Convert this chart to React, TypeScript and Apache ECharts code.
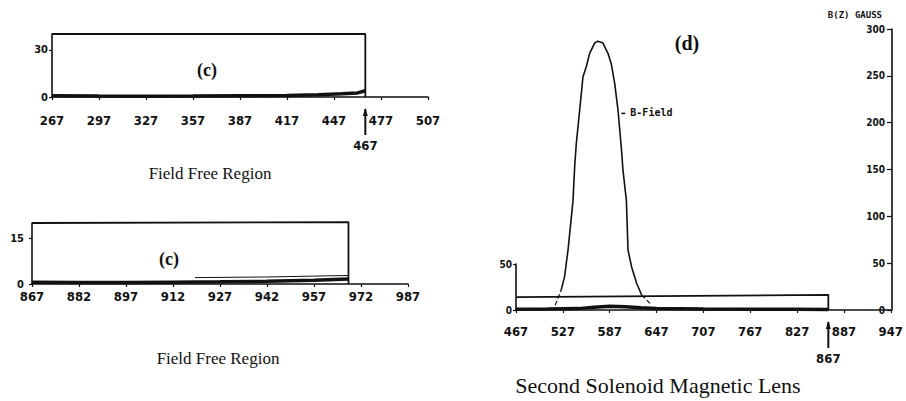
import React, { useEffect, useRef } from "react";
import * as echarts from "echarts";

// Panel (c) top: Field Free Region 267..507
const xTicks1 = [267, 297, 327, 357, 387, 417, 447, 477, 507];
const yTicks1 = [0, 30];
const box1 = [[267, 40], [467, 40], [467, 0]];
const trace1 = [[267, 0.8], [297, 0.6], [327, 0.5], [357, 0.6], [387, 0.8], [417, 1.0], [437, 1.4], [452, 2.0], [462, 2.6], [467, 4]];

// Panel (c) middle: Field Free Region 867..987
const xTicks2 = [867, 882, 897, 912, 927, 942, 957, 972, 987];
const yTicks2 = [0, 15];
const box2 = [[867, 20], [968, 20.3], [968, 0]];
const trace2 = [[867, 0.6], [882, 0.5], [897, 0.5], [912, 0.6], [927, 0.7], [942, 0.9], [957, 1.2], [968, 1.6]];
const trace2b = [[919, 2.1], [942, 2.3], [968, 2.8]];

// Panel (d): Second Solenoid Magnetic Lens 467..947
const xTicks3 = [467, 527, 587, 647, 707, 767, 827, 887, 947];
const yTicks3 = [0, 50];
const box3 = [[467, 14], [867, 16.5], [867, 0]];
const trace3 = [[467, 0.8], [507, 1], [547, 1.5], [567, 3], [587, 4], [607, 3.6], [627, 2.5], [647, 1.5], [707, 1], [767, 0.8], [827, 0.8], [867, 0.5]];
const bField = [
  [524.6, 21], [529, 35.6], [533.4, 64], [539.8, 117], [541.9, 153], [544, 178], [548.3, 213.5],
  [552.5, 249], [556.8, 260], [561, 274], [567.4, 285], [571.6, 287], [578, 285], [584.4, 274],
  [588.6, 263], [593, 242], [597.2, 213.5], [601.4, 174], [603.6, 149], [607.9, 117], [610, 64],
  [614.6, 46], [621, 28.5], [627.4, 16],
];
const bFieldLeftTail = [[517, 5], [524.6, 21]];
const bFieldRightTail = [[627.4, 16], [638, 7]];

const markers = [
  { x: 467, label: "467", grid: 0 },
  { x: 867, label: "867", grid: 2 },
];

const INK = "#111";
const NUM_FONT = "'DejaVu Sans Condensed', 'DejaVu Sans', sans-serif";
const SERIF = "'Liberation Serif', 'Times New Roman', serif";

function xAxisCfg(gridIndex: number, min: number, max: number, ticks: number[], margin: number, show = true) {
  return {
    type: "value",
    gridIndex,
    min,
    max,
    show,
    axisLine: { show: true, onZero: false, lineStyle: { color: INK, width: 1.6 } },
    axisTick: { show: true, customValues: ticks, length: 3, lineStyle: { color: INK, width: 1.2 } },
    axisLabel: {
      show: true,
      customValues: ticks,
      margin,
      color: INK,
      fontFamily: NUM_FONT,
      fontWeight: "bold",
      fontSize: 13,
      hideOverlap: false,
    },
    splitLine: { show: false },
  };
}

function yAxisCfg(gridIndex: number, min: number, max: number, ticks: number[], fontSize: number, margin: number) {
  return {
    type: "value",
    gridIndex,
    min,
    max,
    axisLine: { show: true, onZero: false, lineStyle: { color: INK, width: 1.6 } },
    axisTick: { show: true, customValues: ticks, length: 3, lineStyle: { color: INK, width: 1.2 } },
    axisLabel: {
      show: true,
      customValues: ticks,
      margin,
      color: INK,
      fontFamily: NUM_FONT,
      fontWeight: "bold",
      fontSize,
    },
    splitLine: { show: false },
  };
}

function lineSeries(x: number, y: number, data: number[][], width: number, type: string = "solid") {
  return {
    type: "line",
    xAxisIndex: x,
    yAxisIndex: y,
    data,
    symbol: "none",
    smooth: false,
    clip: false,
    lineStyle: { color: INK, width, type },
    silent: true,
  };
}

export default function App() {
  const ref = useRef<HTMLDivElement>(null);
  useEffect(() => {
    if (!ref.current) return;
    const chart = echarts.init(ref.current, null, { renderer: "svg" });
    const option: any = {
      animation: false,
      backgroundColor: "#fff",
      grid: [
        { left: 52, top: 34, width: 376, height: 63 },
        { left: 32, top: 223, width: 376, height: 61 },
        { left: 516, top: 264, width: 376, height: 46 },
        { left: 516, top: 29, width: 376, height: 281 },
      ],
      xAxis: [
        xAxisCfg(0, 267, 507, xTicks1, 17),
        xAxisCfg(1, 867, 987, xTicks2, 6),
        xAxisCfg(2, 467, 947, xTicks3, 15),
        { ...xAxisCfg(3, 467, 947, xTicks3, 16, false) },
      ],
      yAxis: [
        yAxisCfg(0, 0, 40, yTicks1, 11, 4),
        yAxisCfg(1, 0, 20, yTicks2, 11, 8),
        yAxisCfg(2, 0, 50, yTicks3, 10, 4),
        {
          type: "value",
          gridIndex: 3,
          position: "right",
          min: 0,
          max: 300,
          interval: 50,
          name: "B(Z) GAUSS",
          nameLocation: "end",
          nameGap: 10,
          nameTextStyle: {
            color: INK,
            fontFamily: "'DejaVu Sans Mono', monospace",
            fontWeight: "bold",
            fontSize: 9,
            align: "right",
            padding: [0, 10, 0, 0],
          },
          axisLine: { show: true, lineStyle: { color: INK, width: 1.6 } },
          axisTick: { show: true, inside: true, length: 5, lineStyle: { color: INK, width: 1.2 } },
          axisLabel: {
            inside: true,
            margin: 7,
            color: INK,
            fontFamily: NUM_FONT,
            fontWeight: "bold",
            fontSize: 10,
          },
          splitLine: { show: false },
        },
      ],
      series: [
        lineSeries(0, 0, box1, 1.8),
        lineSeries(0, 0, trace1, 3.5),
        lineSeries(1, 1, box2, 1.8),
        lineSeries(1, 1, trace2, 3.5),
        lineSeries(1, 1, trace2b, 1),
        lineSeries(2, 2, box3, 1.8),
        lineSeries(2, 2, trace3, 3.5),
        lineSeries(3, 3, bField, 1.6),
        lineSeries(3, 3, bFieldLeftTail, 1.2, "dashed"),
        lineSeries(3, 3, bFieldRightTail, 1.2, "dashed"),
      ],
    };
    chart.setOption(option);

    const graphics: any[] = [];
    markers.forEach((m) => {
      const p = chart.convertToPixel({ xAxisIndex: m.grid, yAxisIndex: m.grid }, [m.x, 0]) as number[];
      const x = p[0];
      const y = p[1];
      graphics.push({
        type: "line",
        shape: { x1: x, y1: y + 12, x2: x, y2: y + 38 },
        style: { stroke: INK, lineWidth: 2 },
        silent: true,
      });
      graphics.push({
        type: "polygon",
        shape: { points: [[x - 2.5, y + 19], [x + 2.5, y + 19], [x, y + 11]] },
        style: { fill: INK },
        silent: true,
      });
      graphics.push({
        type: "text",
        x,
        y: y + 48,
        style: {
          text: m.label,
          fill: INK,
          font: `bold 13px ${NUM_FONT}`,
          align: "center",
          verticalAlign: "middle",
        },
        silent: true,
      });
    });

    const bf = chart.convertToPixel({ xAxisIndex: 3, yAxisIndex: 3 }, [604, 211]) as number[];
    graphics.push({
      type: "line",
      shape: { x1: bf[0] - 2, y1: bf[1] + 1, x2: bf[0] + 2, y2: bf[1] + 1 },
      style: { stroke: INK, lineWidth: 1.5 },
      silent: true,
    });
    graphics.push({
      type: "text",
      x: bf[0] + 7,
      y: bf[1],
      style: {
        text: "B-Field",
        fill: INK,
        font: "bold 10px 'DejaVu Sans Mono', monospace",
        align: "left",
        verticalAlign: "middle",
      },
      silent: true,
    });

    const texts = [
      { text: "(c)", x: 207, y: 70, size: 18, weight: "bold" },
      { text: "(c)", x: 169, y: 259, size: 18, weight: "bold" },
      { text: "(d)", x: 687, y: 43, size: 20, weight: "bold" },
      { text: "Field Free Region", x: 210, y: 173, size: 17, weight: "normal" },
      { text: "Field Free Region", x: 218, y: 358, size: 17, weight: "normal" },
      { text: "Second Solenoid Magnetic Lens", x: 658, y: 385, size: 22, weight: "normal" },
    ];
    texts.forEach((t) => {
      graphics.push({
        type: "text",
        x: t.x,
        y: t.y,
        style: {
          text: t.text,
          fill: INK,
          font: `${t.weight} ${t.size}px ${SERIF}`,
          align: "center",
          verticalAlign: "middle",
        },
        silent: true,
      });
    });

    chart.setOption({ graphic: graphics });
    return () => chart.dispose();
  }, []);
  return (
    <div
      ref={ref}
      style={{ position: "absolute", left: 0, top: 0, width: 906, height: 401 }}
    />
  );
}
